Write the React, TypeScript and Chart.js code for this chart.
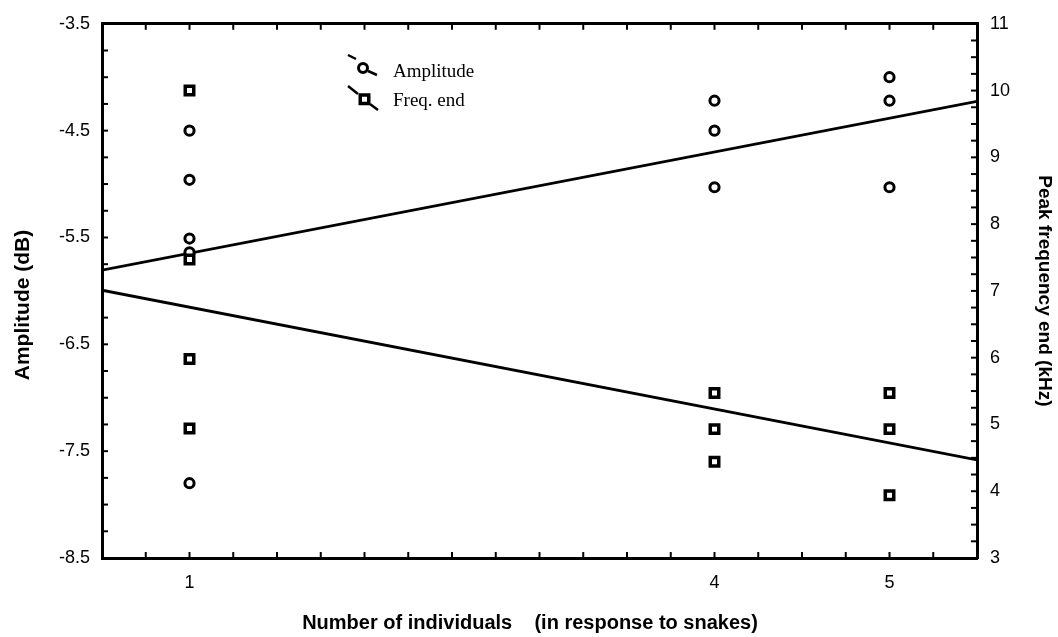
import React, { useEffect, useRef } from 'react';
import { Chart, registerables } from 'chart.js';

Chart.register(...registerables);

// ---- data ----
const ampX = [1, 1, 1, 1, 1, 4, 4, 4, 5, 5, 5];
const ampY = [-4.5, -4.96, -5.51, -5.64, -7.8, -4.22, -4.5, -5.03, -4.0, -4.22, -5.03];
const freqX = [1, 1, 1, 1, 4, 4, 4, 5, 5, 5];
const freqY = [10.0, 7.47, 5.98, 4.94, 5.47, 4.93, 4.44, 5.47, 4.93, 3.94];
const fitX = [0.5, 5.5];
const ampFit = [-5.805, -4.225];
const freqFit = [7.01, 4.47];
const xTickLabels = [1, 4, 5];
const ampTickLabels = [-3.5, -4.5, -5.5, -6.5, -7.5, -8.5];
const freqTickLabels = [3, 4, 5, 6, 7, 8, 9, 10, 11];
const seriesNames = ['Amplitude', 'Freq. end'];
const xTitle = 'Number of individuals    (in response to snakes)';
const yTitle = 'Amplitude (dB)';
const y2Title = 'Peak frequency end (kHz)';

const SANS = "'Liberation Sans', Arial, sans-serif";
const SERIF = "'Liberation Serif', 'Times New Roman', serif";

const has = (arr: number[], v: number) => arr.some((t) => Math.abs(t - v) < 1e-6);

const minorTicks = {
  id: 'minorTicks',
  afterDraw(chart: any) {
    const ctx = chart.ctx;
    const area = chart.chartArea;
    const L = 6;
    ctx.save();
    ctx.strokeStyle = '#000';
    ctx.lineWidth = 2;
    const draw = (scaleId: string, side: string) => {
      const s = chart.scales[scaleId];
      s.ticks.forEach((t: any) => {
        if (Math.abs(t.value - s.min) < 1e-6 || Math.abs(t.value - s.max) < 1e-6) return;
        const p = s.getPixelForValue(t.value);
        ctx.beginPath();
        if (side === 'bottom') { ctx.moveTo(p, area.bottom); ctx.lineTo(p, area.bottom - L); }
        if (side === 'top') { ctx.moveTo(p, area.top); ctx.lineTo(p, area.top + L); }
        if (side === 'left') { ctx.moveTo(area.left, p); ctx.lineTo(area.left + L, p); }
        if (side === 'right') { ctx.moveTo(area.right, p); ctx.lineTo(area.right - L, p); }
        ctx.stroke();
      });
    };
    draw('x', 'bottom');
    draw('x', 'top');
    draw('y', 'left');
    draw('y2', 'right');
    ctx.restore();
  },
};

const axisTitles = {
  id: 'axisTitles',
  afterDraw(chart: any) {
    const ctx = chart.ctx;
    ctx.save();
    ctx.fillStyle = '#000';
    ctx.textAlign = 'center';
    ctx.textBaseline = 'middle';
    ctx.font = `bold 20px ${SANS}`;
    ctx.fillText(xTitle, 530, 623);
    ctx.translate(23, 305);
    ctx.rotate(-Math.PI / 2);
    ctx.font = `bold 21px ${SANS}`;
    ctx.fillText(yTitle, 0, 0);
    ctx.restore();
  },
};

const customLegend = {
  id: 'customLegend',
  afterDraw(chart: any) {
    const ctx = chart.ctx;
    ctx.save();
    ctx.strokeStyle = '#000';
    ctx.fillStyle = '#000';
    ctx.lineWidth = 2.5;
    ctx.beginPath();
    ctx.moveTo(348, 55); ctx.lineTo(356, 59);
    ctx.moveTo(368, 71); ctx.lineTo(377, 75);
    ctx.stroke();
    ctx.lineWidth = 3;
    ctx.beginPath();
    ctx.arc(363, 68, 4.5, 0, Math.PI * 2);
    ctx.stroke();
    ctx.lineWidth = 2.5;
    ctx.beginPath();
    ctx.moveTo(348, 86); ctx.lineTo(358, 94);
    ctx.moveTo(370, 104); ctx.lineTo(378, 110);
    ctx.stroke();
    ctx.lineWidth = 3.5;
    ctx.strokeRect(360.25, 95, 8.5, 8.5);
    ctx.font = `19px ${SERIF}`;
    ctx.textAlign = 'left';
    ctx.textBaseline = 'alphabetic';
    ctx.fillText(seriesNames[0], 393, 77);
    ctx.fillText(seriesNames[1], 393, 106);
    ctx.restore();
  },
};

export default function App() {
  const ref = useRef<HTMLCanvasElement | null>(null);
  useEffect(() => {
    if (!ref.current) return;
    const tickFont = { family: SANS, size: 18 };
    const chart = new Chart(ref.current, {
      type: 'scatter',
      data: {
        datasets: [
          {
            type: 'line',
            label: 'amp fit',
            data: fitX.map((x, i) => ({ x, y: ampFit[i] })),
            yAxisID: 'y',
            borderColor: '#000',
            borderWidth: 2.8,
            pointRadius: 0,
            order: 3,
          } as any,
          {
            type: 'line',
            label: 'freq fit',
            data: fitX.map((x, i) => ({ x, y: freqFit[i] })),
            yAxisID: 'y2',
            borderColor: '#000',
            borderWidth: 2.8,
            pointRadius: 0,
            order: 3,
          } as any,
          {
            label: seriesNames[0],
            data: ampX.map((x, i) => ({ x, y: ampY[i] })),
            yAxisID: 'y',
            pointStyle: 'circle',
            pointRadius: 4.6,
            borderWidth: 3,
            borderColor: '#000',
            backgroundColor: '#fff',
            order: 2,
          },
          {
            label: seriesNames[1],
            data: freqX.map((x, i) => ({ x, y: freqY[i] })),
            yAxisID: 'y2',
            pointStyle: 'rect',
            pointRadius: 6,
            borderWidth: 3.5,
            borderColor: '#000',
            backgroundColor: '#fff',
            order: 1,
          },
        ],
      },
      options: {
        animation: false,
        responsive: true,
        maintainAspectRatio: false,
        layout: { padding: 0 },
        plugins: { legend: { display: false }, tooltip: { enabled: false } },
        scales: {
          x: {
            type: 'linear',
            position: 'bottom',
            min: 0.5,
            max: 5.5,
            grid: { display: false, drawTicks: false },
            border: { color: '#000', width: 3 },
            ticks: {
              stepSize: 0.25,
              autoSkip: false,
              maxRotation: 0,
              padding: 14,
              color: '#000',
              font: tickFont,
              callback: (v: any) => (has(xTickLabels, Number(v)) ? String(v) : ''),
            },
            afterFit: (s: any) => { s.height = 79; },
          },
          xTop: {
            type: 'linear',
            position: 'top',
            min: 0.5,
            max: 5.5,
            grid: { display: false, drawTicks: false },
            border: { color: '#000', width: 3 },
            ticks: { display: false },
            afterFit: (s: any) => { s.height = 20; },
          },
          y: {
            type: 'linear',
            position: 'left',
            min: -8.5,
            max: -3.5,
            grid: { display: false, drawTicks: false },
            border: { color: '#000', width: 3 },
            ticks: {
              stepSize: 0.25,
              autoSkip: false,
              padding: 12,
              color: '#000',
              font: tickFont,
              callback: (v: any) => (has(ampTickLabels, Number(v)) ? String(v) : ''),
            },
            afterFit: (s: any) => { s.width = 102; },
          },
          y2: {
            type: 'linear',
            position: 'right',
            min: 3,
            max: 11,
            grid: { display: false, drawTicks: false },
            border: { color: '#000', width: 3 },
            ticks: {
              stepSize: 0.25,
              autoSkip: false,
              padding: 13,
              color: '#000',
              font: tickFont,
              callback: (v: any) => (has(freqTickLabels, Number(v)) ? String(v) : ''),
            },
            title: {
              display: true,
              text: y2Title,
              color: '#000',
              font: { family: SANS, size: 19, weight: 'bold' as const },
              padding: { top: 2, bottom: 0 },
            },
            afterFit: (s: any) => { s.width = 81; },
          },
        },
      },
      plugins: [minorTicks, axisTitles, customLegend],
    });
    return () => chart.destroy();
  }, []);

  return (
    <div style={{ position: 'fixed', left: 0, top: 0, width: 1058, height: 637, background: '#fff' }}>
      <canvas ref={ref} />
    </div>
  );
}
